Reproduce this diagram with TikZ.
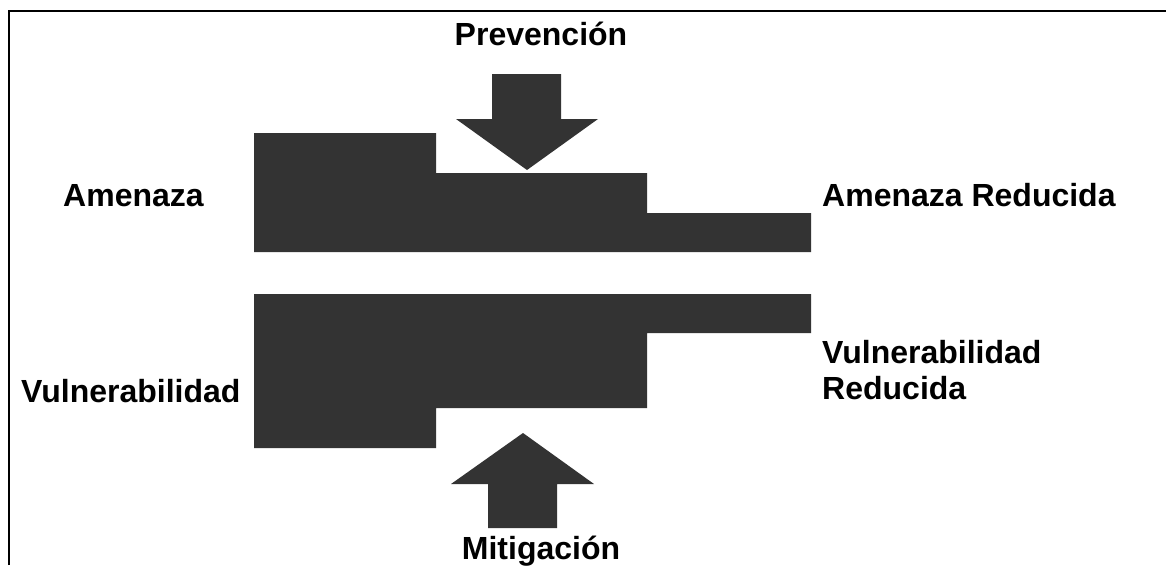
\documentclass[tikz,border=0pt]{standalone}
\usepackage{fontspec}
\setmainfont{Liberation Sans}
\begin{document}
\begin{tikzpicture}[x=1pt,y=-1pt,
  lbl/.style={inner sep=0pt,font=\bfseries\fontsize{32}{36}\selectfont},
  blockfill/.style={fill=black!80,draw=none},
  frameline/.style={line width=2pt,black}]
\useasboundingbox (0,0) rectangle (1166,565);
\fill[white] (0,0) rectangle (1166,565);
% frame
\draw[frameline] (9,565) -- (9,11) -- (1166,11);
% upper block (Amenaza)
\fill[blockfill] (254,133) -- (436,133) -- (436,173) -- (647,173) -- (647,213) -- (811,213) -- (811,252) -- (254,252) -- cycle;
% lower block (Vulnerabilidad)
\fill[blockfill] (254,294) -- (811,294) -- (811,333) -- (647,333) -- (647,408) -- (436,408) -- (436,448) -- (254,448) -- cycle;
% prevention arrow (down)
\fill[blockfill] (492,74) -- (561,74) -- (561,119) -- (598,119) -- (527,170) -- (456,119) -- (492,119) -- cycle;
% mitigation arrow (up)
\fill[blockfill] (488,528) -- (557,528) -- (557,484) -- (594,484) -- (523,433) -- (451,484) -- (488,484) -- cycle;
% labels
\node[lbl,anchor=base] (prev) at (541,45) {Prevención};
\node[lbl,anchor=base west] (amen) at (63,206) {Amenaza};
\node[lbl,anchor=base west] (amenred) at (822,206) {Amenaza Reducida};
\node[lbl,anchor=base west] (vuln) at (21,402) {Vulnerabilidad};
\node[lbl,anchor=base west] (vulnred) at (822,363) {Vulnerabilidad};
\node[lbl,anchor=base west] (vulnred2) at (822,399) {Reducida};
\node[lbl,anchor=base] (mitig) at (541,559) {Mitigación};
\end{tikzpicture}
\end{document}
